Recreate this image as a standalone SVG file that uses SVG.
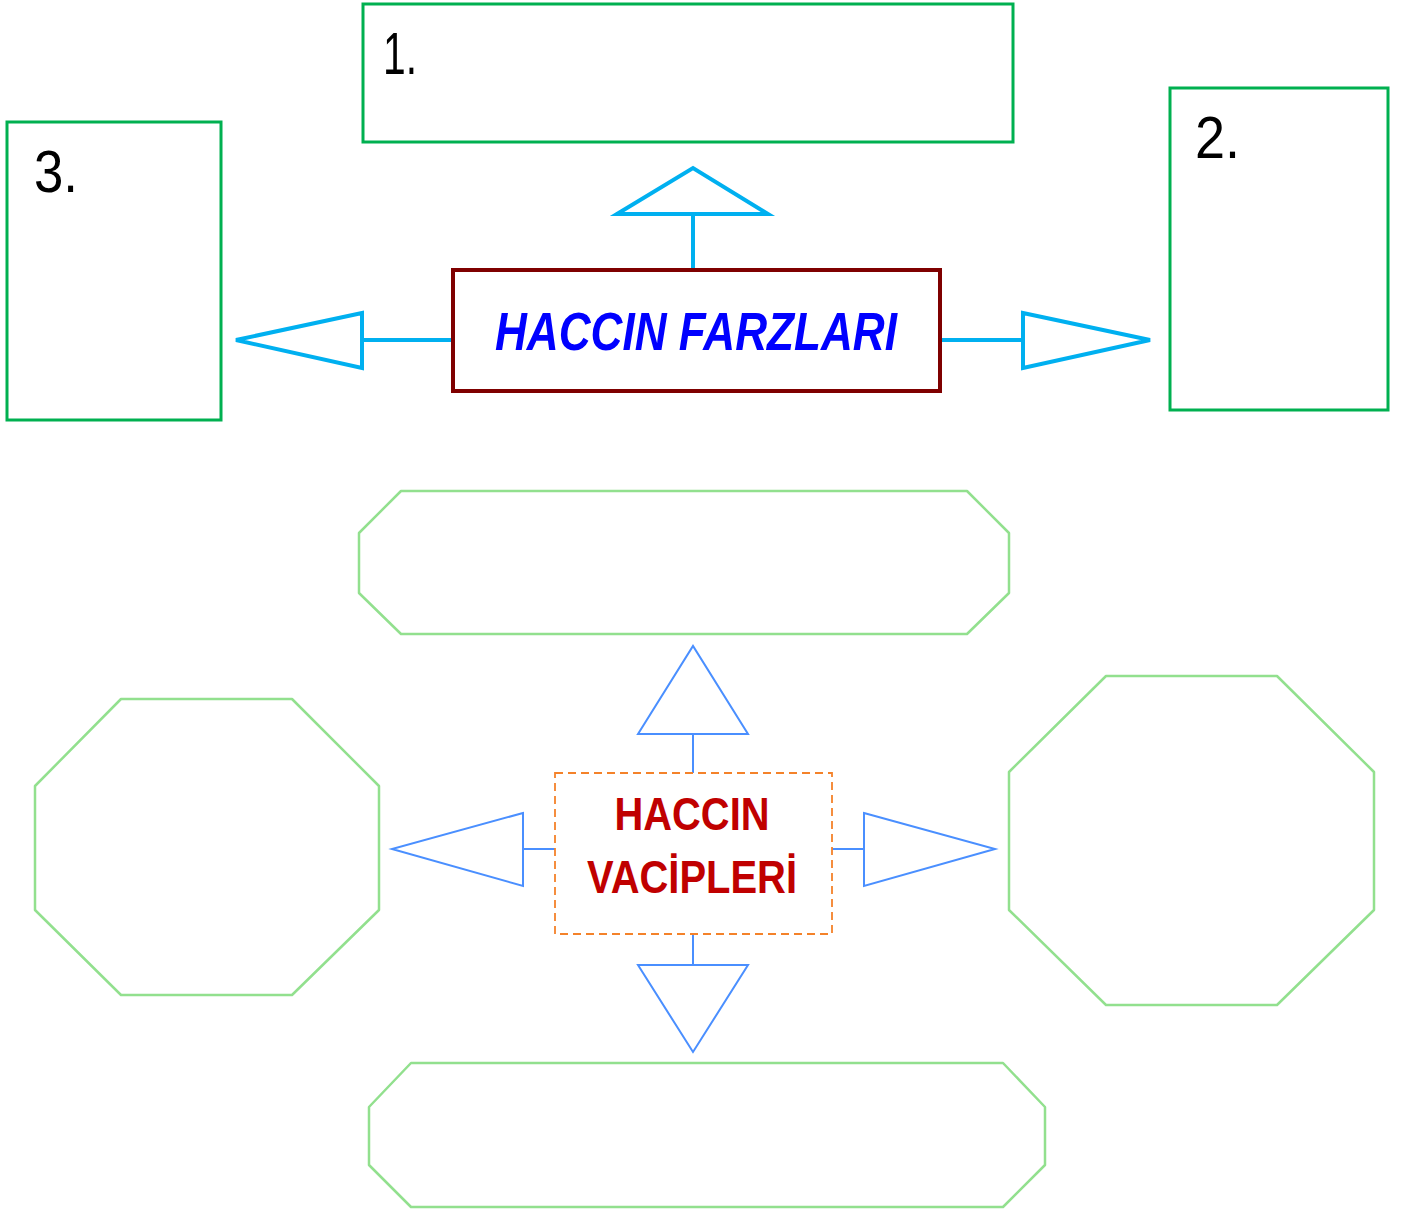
<svg xmlns="http://www.w3.org/2000/svg" width="1408" height="1212" viewBox="0 0 1408 1212">
<style>
.box{fill:#fff;stroke:#00b050;stroke-width:3}
.oct{fill:#fff;stroke:#92e08e;stroke-width:2.5;stroke-linejoin:round}
.cy{fill:#fff;stroke:#00b0f0;stroke-width:4}
.bl{fill:#fff;stroke:#4a8fff;stroke-width:2}
.num{font-family:"Liberation Sans",Arial,sans-serif;font-size:60px;fill:#000}
.title{font-family:"Liberation Sans",Arial,sans-serif;font-weight:bold;font-style:italic}
.vac{font-family:"Liberation Sans",Arial,sans-serif;font-weight:bold;font-size:47px;fill:#c00000}
</style>
<rect width="1408" height="1212" fill="#fff"/>
<g id="connectors">
  <line class="cy" x1="693" y1="270" x2="693" y2="214"/>
  <polygon class="cy" points="617,214 693,168 768,214"/>
  <line class="cy" x1="453" y1="340" x2="362" y2="340"/>
  <polygon class="cy" points="362,313 236,340 362,368"/>
  <line class="cy" x1="940" y1="340" x2="1023" y2="340"/>
  <polygon class="cy" points="1023,313 1150,340 1023,368"/>
  <line class="bl" x1="693" y1="773" x2="693" y2="734" stroke-width="3"/>
  <polygon class="bl" points="638,734 693,646 748,734"/>
  <line class="bl" x1="693" y1="934" x2="693" y2="965" stroke-width="3"/>
  <polygon class="bl" points="638,965 748,965 693,1052"/>
  <line class="bl" x1="555" y1="849" x2="523" y2="849" stroke-width="3"/>
  <polygon class="bl" points="523,813 392,849 523,886"/>
  <line class="bl" x1="832" y1="849" x2="864" y2="849" stroke-width="3"/>
  <polygon class="bl" points="864,813 995,849 864,886"/>
</g>
<g id="box1"><rect class="box" x="363" y="4" width="650" height="138"/><text class="num" x="383" y="74" textLength="34" lengthAdjust="spacingAndGlyphs">1.</text></g>
<g id="box2"><rect class="box" x="1170" y="88" width="218" height="322"/><text class="num" x="1195" y="158" textLength="45" lengthAdjust="spacingAndGlyphs">2.</text></g>
<g id="box3"><rect class="box" x="7" y="122" width="214" height="298"/><text class="num" x="34" y="192" textLength="44" lengthAdjust="spacingAndGlyphs">3.</text></g>
<g id="farzlar">
  <rect x="453" y="270" width="487" height="121" fill="#fff" stroke="#7f0000" stroke-width="4"/>
  <text class="title" x="696" y="350" text-anchor="middle" font-size="54" fill="#0000ff" textLength="402" lengthAdjust="spacingAndGlyphs">HACCIN FARZLARI</text>
</g>
<g id="oct-top"><polygon class="oct" points="401,491 967,491 1009,533 1009,593 967,634 401,634 359,593 359,533"/></g>
<g id="oct-bottom"><polygon class="oct" points="411,1063 1003,1063 1045,1107 1045,1165 1003,1207 411,1207 369,1165 369,1107"/></g>
<g id="oct-left"><polygon class="oct" points="121,699 292,699 379,786 379,910 292,995 121,995 35,910 35,786"/></g>
<g id="oct-right"><polygon class="oct" points="1106,676 1277,676 1374,772 1374,910 1277,1005 1106,1005 1009,910 1009,772"/></g>
<g id="vacipler">
  <rect x="555" y="773" width="277" height="161" fill="#fff" stroke="#f4822a" stroke-width="1.8" stroke-dasharray="8,5"/>
  <text class="vac" x="692" y="830" text-anchor="middle" textLength="155" lengthAdjust="spacingAndGlyphs">HACCIN</text>
  <text class="vac" x="692" y="893" text-anchor="middle" textLength="210" lengthAdjust="spacingAndGlyphs">VACİPLERİ</text>
</g>
</svg>
